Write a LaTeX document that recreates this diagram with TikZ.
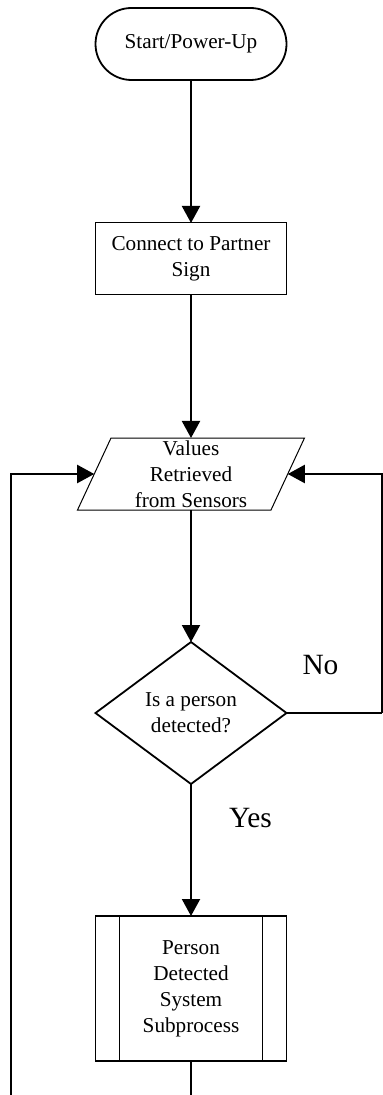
\documentclass[tikz,border=0pt]{standalone}
\usepackage{fontspec}
\setmainfont{Liberation Serif}
\usetikzlibrary{positioning,shapes.geometric,arrows.meta}

\tikzset{
  startstop/.style={rectangle, rounded corners=18pt, draw, line width=0.9pt,
    minimum width=95.5pt, minimum height=36pt, align=center, inner sep=0pt, outer sep=0pt},
  process/.style={rectangle, draw, line width=0.5pt,
    minimum width=95.5pt, minimum height=36pt, align=center, inner sep=0pt, outer sep=0pt},
  io/.style={trapezium, trapezium left angle=63.4, trapezium right angle=116.6,
    trapezium stretches body=true, draw, line width=0.5pt,
    minimum width=113.5pt, minimum height=36pt, align=center, inner sep=0pt, outer sep=0pt},
  decision/.style={diamond, draw, line width=0.9pt,
    minimum width=95.5pt, minimum height=71pt, align=center, inner sep=0pt, outer sep=0pt},
  subproc/.style={rectangle, draw, line width=0.9pt,
    minimum width=95.5pt, minimum height=72.5pt, align=center, inner sep=0pt, outer sep=0pt},
  flow/.style={line width=1pt, -{Triangle[width=9pt,length=8.5pt]}},
  line/.style={line width=1pt},
  answer/.style={font=\fontsize{14.7}{17}\selectfont, inner sep=0pt},
}

\begin{document}
\begin{tikzpicture}[node distance=71.5pt, font=\fontsize{10.6}{13}\selectfont]
    \useasboundingbox (0,0) rectangle (191.5pt,-547.5pt);

    \node (start) [startstop] at (95.5pt,-22pt) {Start/Power-Up};
    \node (connect) [process, below=of start] {Connect to Partner\\Sign};
    \node (values) [io, below=of connect] {Values\\Retrieved\\from Sensors};
    \node (person) [decision, below=66pt of values] {Is a person\\detected?};
    \node (sub) [subproc, below=66pt of person] {Person\\Detected\\System\\Subprocess};
    \draw[line width=0.9pt] ([xshift=12pt]sub.north west) -- ([xshift=12pt]sub.south west);
    \draw[line width=0.9pt] ([xshift=-12pt]sub.north east) -- ([xshift=-12pt]sub.south east);

    \coordinate (rightEdge) at (190.75pt,0);
    \coordinate (noTurn) at (person.east -| rightEdge);
    \coordinate (loopIn) at (5.5pt,-547.5pt);

    \draw[flow] (start) -- (connect);
    \draw[flow] (connect) -- (values.north -| connect.south);
    \draw[flow] (values.south -| connect.south) -- (person);
    \draw[flow] (person) -- node[answer, pos=0.26, anchor=west, xshift=18.5pt] {Yes} (sub);
    \draw[line] (person.east) -- node[answer, pos=0, anchor=south west, xshift=7.5pt, yshift=18.5pt] {No} (noTurn);
    \draw[flow] (noTurn) |- (values.east);
    \draw[line] (sub.south) -- (sub.south |- loopIn);
    \draw[flow] (loopIn) |- (values.west);
\end{tikzpicture}
\end{document}
